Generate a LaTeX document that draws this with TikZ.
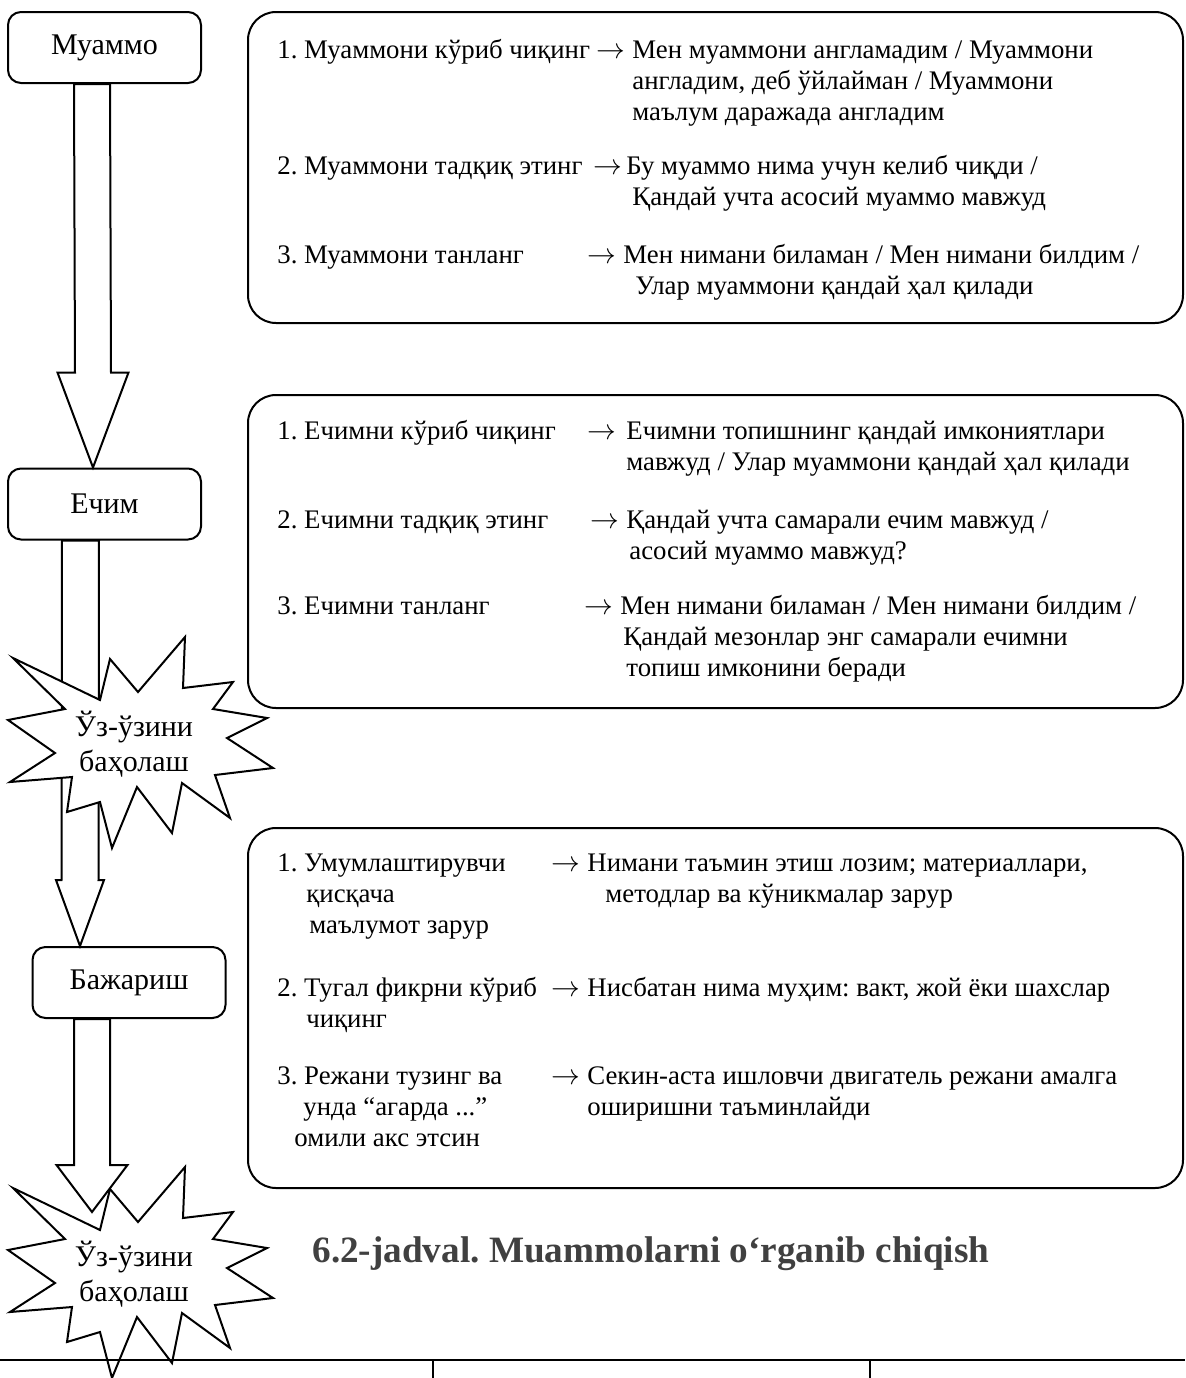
\documentclass[tikz,border=0pt]{standalone}
\usepackage{fontspec}
\setmainfont{Liberation Serif}
\usetikzlibrary{calc}
\frenchspacing

\tikzset{
  labelbox/.style={draw, line width=1pt, rounded corners=6.5pt, minimum width=96.5pt,
    minimum height=35.5pt, inner sep=0pt, font=\fontsize{15}{17.5}\selectfont},
  panel/.style={draw, line width=1pt, rounded corners=14pt},
  item/.style={anchor=base west, inner sep=0pt, font=\fontsize{13.4}{15.5}\selectfont},
  blockarrow/.style={draw, fill=white, line width=1pt, line join=miter},
  burstline/.style={draw, fill=white, line width=1pt, line join=miter},
  bursttext/.style={align=center, inner sep=0pt, font=\fontsize{15}{17.5}\selectfont},
  caption/.style={anchor=base west, inner sep=0pt, text=black!75,
    font=\fontsize{18.6}{23}\selectfont\bfseries},
  burst/.pic={
    \path[burstline] (-127,-84) -- (-40,-42) -- (-30,-83) -- (-2,-50) -- (45,-105)
      -- (43,-54) -- (93,-60) -- (73,-33) -- (127,-24) -- (87,-4) -- (133,26)
      -- (75,33) -- (90,76) -- (42,41) -- (32,91) -- (-3,45) -- (-28,106)
      -- (-40,60) -- (-73,70) -- (-68,35) -- (-130,40) -- (-85,11) -- (-132,-22)
      -- (-75,-33) -- cycle;
  }
}

\newcommand{\textlines}[1]{\begin{tabular}[t]{@{}l@{}}#1\end{tabular}}
\newcommand{\goesto}{$\rightarrow$}
% top, tip, shaft half width, head half width, head length
\newcommand{\blockarrow}[5]{%
  \path[blockarrow] ($(#1)+(-#3,0)$) -- ($(#2)+(-#3,-#5)$) -- ($(#2)+(-#4,-#5)$)
    -- (#2) -- ($(#2)+(#4,-#5)$) -- ($(#2)+(#3,-#5)$) -- ($(#1)+(#3,0)$) -- cycle;}

\begin{document}
\begin{tikzpicture}[x=0.5pt,y=-0.5pt]
\useasboundingbox (0,0) rectangle (1185,1378);

% right panels
\draw[panel] (248,12) rectangle (1183,323);
\draw[panel] (248,395) rectangle (1183,708);
\draw[panel] (248,828) rectangle (1183,1188);

\node[item] (p1) at (277,58) {1. Муаммони кўриб чиқинг};
\node[item] (p1to) at (596,58) {\goesto};
\node[item] (p1a) at (632,58) {\textlines{Мен муаммони англамадим / Муаммони\\
  англадим, деб ўйлайман / Муаммони\\ маълум даражада англадим}};
\node[item] (p2) at (277,174) {2. Муаммони тадқиқ этинг};
\node[item] (p2to) at (593,174) {\goesto};
\node[item] (p2a) at (626,174) {\textlines{Бу муаммо нима учун келиб чиқди /\\
  \hspace*{3pt}Қандай учта асосий муаммо мавжуд}};
\node[item] (p3) at (277,263) {3. Муаммони танланг};
\node[item] (p3to) at (587,263) {\goesto};
\node[item] (p3a) at (623,263) {\textlines{Мен нимани биламан / Мен нимани билдим /\\
  \hspace*{6pt}Улар муаммони қандай ҳал қилади}};

\node[item] (s1) at (277,439) {1. Ечимни кўриб чиқинг};
\node[item] (s1to) at (587,439) {\goesto};
\node[item] (s1a) at (626,439) {\textlines{Ечимни топишнинг қандай имкониятлари\\
  мавжуд / Улар муаммони қандай ҳал қилади}};
\node[item] (s2) at (277,528) {2. Ечимни тадқиқ этинг};
\node[item] (s2to) at (590,528) {\goesto};
\node[item] (s2a) at (626,528) {\textlines{Қандай учта самарали ечим мавжуд /\\
  \hspace*{1.5pt}асосий муаммо мавжуд?}};
\node[item] (s3) at (277,614) {3. Ечимни танланг};
\node[item] (s3to) at (584,614) {\goesto};
\node[item] (s3a) at (620,614) {\textlines{Мен нимани биламан / Мен нимани билдим /\\
  \hspace*{1.5pt}Қандай мезонлар энг самарали ечимни\\ \hspace*{3pt}топиш имконини беради}};

\node[item] (b1) at (277,871) {\textlines{1. Умумлаштирувчи\\ \hspace*{14.5pt}қисқача\\
  \hspace*{16pt}маълумот зарур}};
\node[item] (b1to) at (551,871) {\goesto};
\node[item] (b1a) at (587,871) {\textlines{Нимани таъмин этиш лозим; материаллари,\\
  \hspace*{9pt}методлар ва кўникмалар зарур}};
\node[item] (b2) at (277,996) {\textlines{2. Тугал фикрни кўриб\\ \hspace*{14.5pt}чиқинг}};
\node[item] (b2to) at (551,996) {\goesto};
\node[item] (b2a) at (587,996) {Нисбатан нима муҳим: вакт, жой ёки шахслар};
\node[item] (b3) at (277,1084) {\textlines{3. Режани тузинг ва\\ \hspace*{13pt}унда “агарда ...”\\
  \hspace*{8.5pt}омили акс этсин}};
\node[item] (b3to) at (551,1084) {\goesto};
\node[item] (b3a) at (587,1084) {\textlines{Секин-аста ишловчи двигатель режани амалга\\
  оширишни таъминлайди}};

% left column
\node[labelbox] (muammo) at (104.5,47.5) {Муаммо};
\node[labelbox] (echim) at (104.5,504) {Ечим};
\node[labelbox] (bajarish) at (129,982.5) {Бажариш};
\coordinate (tip3) at (92,1212);

\blockarrow{$(muammo.south)+(-12.5,0)$}{$(echim.north)+(-11.5,0)$}{18}{35.5}{95}
\blockarrow{$(echim.south)+(-24,0)$}{$(bajarish.north)+(-49,0)$}{18.5}{24}{66}
\pic at (140,742) {burst};
\pic at (140,1272) {burst};
\blockarrow{$(bajarish.south)+(-37,0)$}{tip3}{18}{35.5}{47}

\node[bursttext] (selfeval1) at (134,744) {Ўз-ўзини\\баҳолаш};
\node[bursttext] (selfeval2) at (134,1274) {Ўз-ўзини\\баҳолаш};

\node[caption] (title) at (312,1262) {6.2-jadval. Muammolarni o‘rganib chiqish};

% table rule
\draw[line width=1pt] (0,1360) -- (1185,1360);
\draw[line width=1pt] (433,1360) -- (433,1378);
\draw[line width=1pt] (870,1360) -- (870,1378);

\end{tikzpicture}
\end{document}
